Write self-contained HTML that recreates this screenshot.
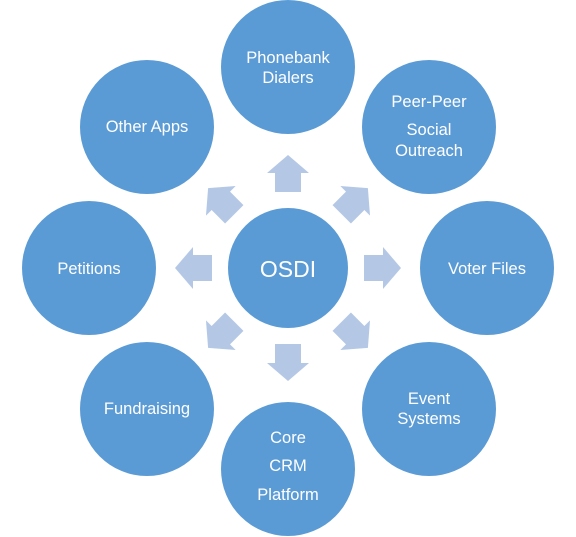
<!DOCTYPE html>
<html><head><style>
html,body{margin:0;padding:0;background:#fff;}
svg{display:block;}
text{font-family:"Liberation Sans",sans-serif;fill:#fff;font-size:16.5px;text-anchor:middle;}
</style></head><body>
<svg width="576" height="537" viewBox="0 0 576 537">
<defs>
<polygon id="ar" points="275,192 275,173 267,173 288,155 309,173 301,173 301,192" fill="#b4c8e6"/>
</defs>
<g>
<use href="#ar"/>
<use href="#ar" transform="rotate(45 288 268)"/>
<use href="#ar" transform="rotate(90 288 268)"/>
<use href="#ar" transform="rotate(135 288 268)"/>
<use href="#ar" transform="rotate(180 288 268)"/>
<use href="#ar" transform="rotate(225 288 268)"/>
<use href="#ar" transform="rotate(270 288 268)"/>
<use href="#ar" transform="rotate(315 288 268)"/>
</g>
<g fill="#5b9bd5">
<circle cx="288" cy="268" r="60"/>
<circle cx="288" cy="67" r="67"/>
<circle cx="429" cy="127" r="67"/>
<circle cx="487" cy="268" r="67"/>
<circle cx="429" cy="409" r="67"/>
<circle cx="288" cy="469" r="67"/>
<circle cx="147" cy="409" r="67"/>
<circle cx="89" cy="268" r="67"/>
<circle cx="147" cy="127" r="67"/>
</g>
<text x="288" y="277" style="font-size:23px">OSDI</text>
<text x="288" y="63">Phonebank</text>
<text x="288" y="83">Dialers</text>
<text x="429" y="107">Peer-Peer</text>
<text x="429" y="135">Social</text>
<text x="429" y="156">Outreach</text>
<text x="487" y="274">Voter Files</text>
<text x="429" y="404">Event</text>
<text x="429" y="424">Systems</text>
<text x="288" y="443">Core</text>
<text x="288" y="471">CRM</text>
<text x="288" y="500">Platform</text>
<text x="147" y="414">Fundraising</text>
<text x="89" y="274">Petitions</text>
<text x="147" y="132">Other Apps</text>
</svg>
</body></html>
